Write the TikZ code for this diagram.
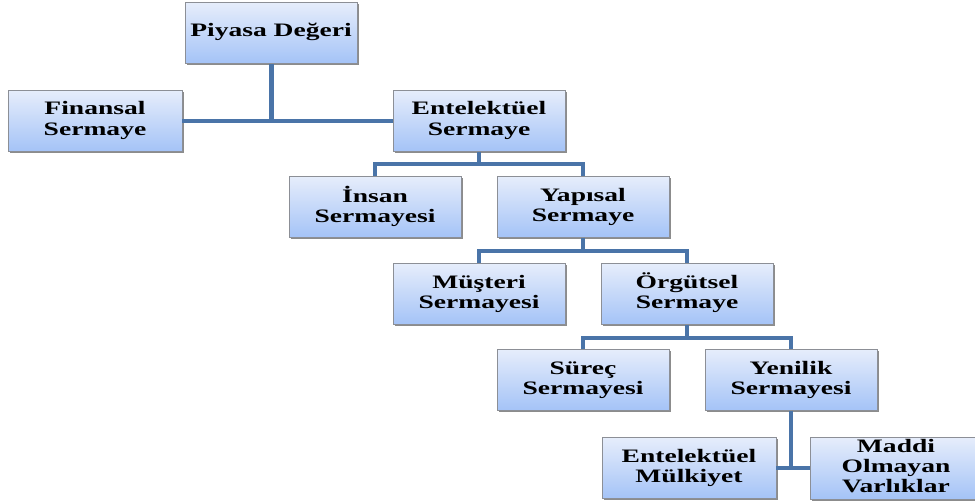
\documentclass[tikz,border=0pt]{standalone}
\usepackage{fontspec}
\setmainfont{Liberation Serif}
\usepackage{tikz}
\usetikzlibrary{positioning,shadows}
\usepackage{xcolor}
\definecolor{BoxTop}{HTML}{E6EDFB}
\definecolor{BoxBot}{HTML}{A4C3F7}
\definecolor{BoxLine}{HTML}{8C8F96}
\definecolor{LinkBlue}{HTML}{4A74A8}
\newcommand{\lbl}[1]{\scalebox{1.45}[1]{\begin{tabular}{@{}c@{}}#1\end{tabular}}}

\begin{document}
\begin{tikzpicture}[x=1pt, y=-1pt,
    unit/.style={draw=BoxLine, line width=0.8pt, top color=BoxTop, bottom color=BoxBot,
      minimum width=172pt, minimum height=61pt, inner sep=0pt,
      font=\fontsize{19}{20}\selectfont\bfseries,
      drop shadow={shadow xshift=1.5pt, shadow yshift=-1.5pt, fill=black!45, opacity=1}},
    link/.style={draw=LinkBlue, line width=4pt}
  ]
    \clip (0,0) rectangle (975,503);
    \fill[white] (0,0) rectangle (975,503);

    \node[unit] (piy) at (271, 33) {\lbl{Piyasa Değeri}};
    \node[unit, minimum width=174pt] (fin) at (95, 121) {\lbl{Finansal\\Sermaye}};
    \node[unit] (ent) at (479, 121) {\lbl{Entelektüel\\Sermaye}};
    \node[unit] (ins) at (375, 207) {\lbl{İnsan\\Sermayesi}};
    \node[unit] (yap) at (583, 207) {\lbl{Yapısal\\Sermaye}};
    \node[unit] (mus) at (479, 294) {\lbl{Müşteri\\Sermayesi}};
    \node[unit] (org) at (687, 294) {\lbl{Örgütsel\\Sermaye}};
    \node[unit] (sur) at (583, 380) {\lbl{Süreç\\Sermayesi}};
    \node[unit] (yen) at (791, 380) {\lbl{Yenilik\\Sermayesi}};
    \node[unit, minimum width=174pt] (emk) at (689, 468) {\lbl{Entelektüel\\Mülkiyet}};
    \node[unit, minimum height=62pt] (mov) at (896, 468) {\lbl{Maddi\\Olmayan\\Varlıklar}};

    % top level
    \draw[link, line width=5pt] (piy.south) -- (piy.south |- fin.east);
    \draw[link] (fin.east) -- (ent.west);

    % branches
    \coordinate (j1) at (479, 164);
    \draw[link] (ent.south) -- (j1);
    \draw[link] (ins.north) |- (j1) -| (yap.north);

    \coordinate (j2) at (583, 251);
    \draw[link] (yap.south) -- (j2);
    \draw[link] (mus.north) |- (j2) -| (org.north);

    \coordinate (j3) at (687, 338);
    \draw[link] (org.south) -- (j3);
    \draw[link] (sur.north) |- (j3) -| (yen.north);

    \draw[link] (yen.south) -- (yen.south |- emk.east);
    \draw[link] (emk.east) -- (mov.west);
  \end{tikzpicture}
\end{document}
